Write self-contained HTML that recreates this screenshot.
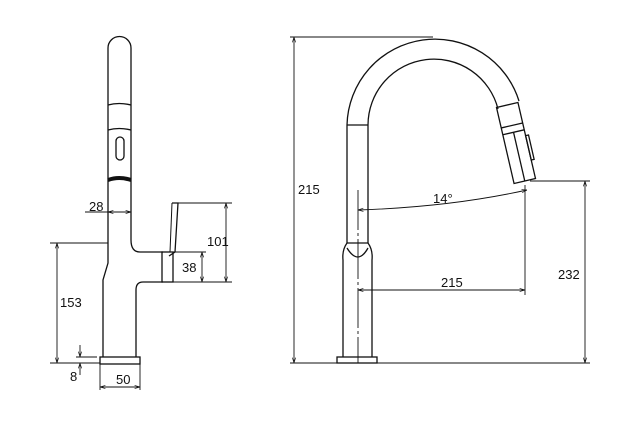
<!DOCTYPE html>
<html><head><style>body{margin:0;background:#fff}svg{display:block}text{font-family:"Liberation Sans",sans-serif;font-size:13px;fill:#111}</style></head><body>
<svg width="625" height="429" viewBox="0 0 625 429" xmlns="http://www.w3.org/2000/svg">
<defs><marker id="a" viewBox="0 0 10 10" refX="10" refY="5" markerWidth="6" markerHeight="6" orient="auto-start-reverse"><path d="M0,2 L10,5 L0,8" fill="none" stroke="#111" stroke-width="1.2"/></marker></defs>
<g fill="none" stroke="#111" stroke-width="1.3">
<!-- left faucet -->
<path d="M108,243 L108,48 A11.5,11.5 0 0 1 131,48 L131,240 Q131,252 140,252 L163,252"/>
<path d="M108,243 L108,263 L103,280 L103,357"/>
<path d="M163,282 L143,282 Q136,282 136,290 L136,357"/>
<path d="M108,105 Q119,102 131,105"/>
<path d="M108,130 Q119,127 131,130"/>
<rect x="116" y="137" width="8" height="23" rx="4"/>
<path d="M108,180 Q119,176 131,180" stroke-width="4"/>
<rect x="100" y="357" width="40" height="7"/>
<rect x="162" y="252" width="11" height="30"/>
<path d="M172,203 L178,203 L175,252 L169,256"/>
<path d="M172,203 L170,252" stroke-width="1"/>
<!-- right faucet -->
<path d="M347,243 L347,125 A88,88 0 0 1 519,101"/>
<path d="M368,243 L368,125 A66,66 0 0 1 498,109"/>
<path d="M347,125 L368,125 M347,243 L368,243"/>
<path d="M347,243 Q342,250 343,260 L343,357 M368,243 Q373,250 372,260 L372,357"/>
<path d="M347,248 Q358,266 368,248"/>
<rect x="337" y="357" width="40" height="6"/>
<g transform="rotate(-13 516 143)">
<rect x="505" y="104" width="22" height="78"/>
<line x1="505" y1="125" x2="527" y2="125"/>
<line x1="505" y1="132" x2="527" y2="132"/>
<line x1="516" y1="132" x2="516" y2="182"/>
<rect x="527" y="138" width="3" height="25"/>
</g>
</g>
<g fill="none" stroke="#111" stroke-width="0.9">
<!-- left dims -->
<line x1="85" y1="212" x2="108" y2="212"/>
<line x1="108" y1="212" x2="131" y2="212" marker-start="url(#a)" marker-end="url(#a)"/>
<line x1="178" y1="203" x2="232" y2="203"/>
<line x1="173" y1="282" x2="232" y2="282"/>
<line x1="226" y1="203" x2="226" y2="282" marker-start="url(#a)" marker-end="url(#a)"/>
<line x1="173" y1="252" x2="206" y2="252"/>
<line x1="202" y1="252" x2="202" y2="282" marker-start="url(#a)" marker-end="url(#a)"/>
<line x1="50" y1="243" x2="108" y2="243"/>
<line x1="50" y1="363" x2="100" y2="363"/>
<line x1="57" y1="243" x2="57" y2="363" marker-start="url(#a)" marker-end="url(#a)"/>
<line x1="76" y1="357" x2="97" y2="357"/>
<line x1="80" y1="345" x2="80" y2="357" marker-end="url(#a)"/>
<line x1="80" y1="375" x2="80" y2="363" marker-end="url(#a)"/>
<line x1="100" y1="364" x2="100" y2="390"/>
<line x1="140" y1="364" x2="140" y2="390"/>
<line x1="100" y1="387" x2="140" y2="387" marker-start="url(#a)" marker-end="url(#a)"/>
<!-- right dims -->
<line x1="290" y1="37" x2="433" y2="37"/>
<line x1="290" y1="363" x2="337" y2="363"/>
<line x1="294" y1="37" x2="294" y2="363" marker-start="url(#a)" marker-end="url(#a)"/>
<line x1="358" y1="190" x2="358" y2="363" stroke-dasharray="40 3 3 3"/>
<line x1="358" y1="290" x2="525" y2="290" marker-start="url(#a)" marker-end="url(#a)"/>
<line x1="525" y1="185" x2="525" y2="295"/>
<line x1="377" y1="363" x2="590" y2="363"/>
<line x1="530" y1="181" x2="590" y2="181"/>
<line x1="585" y1="181" x2="585" y2="363" marker-start="url(#a)" marker-end="url(#a)"/>
<path d="M358,210 Q450,207 527,190" marker-start="url(#a)" marker-end="url(#a)"/>
</g>
<text x="89" y="211">28</text>
<text x="207" y="246">101</text>
<text x="182" y="272">38</text>
<text x="60" y="307">153</text>
<text x="70" y="381">8</text>
<text x="116" y="384">50</text>
<text x="298" y="194">215</text>
<text x="433" y="203">14°</text>
<text x="441" y="287">215</text>
<text x="558" y="279">232</text>
</svg>
</body></html>
